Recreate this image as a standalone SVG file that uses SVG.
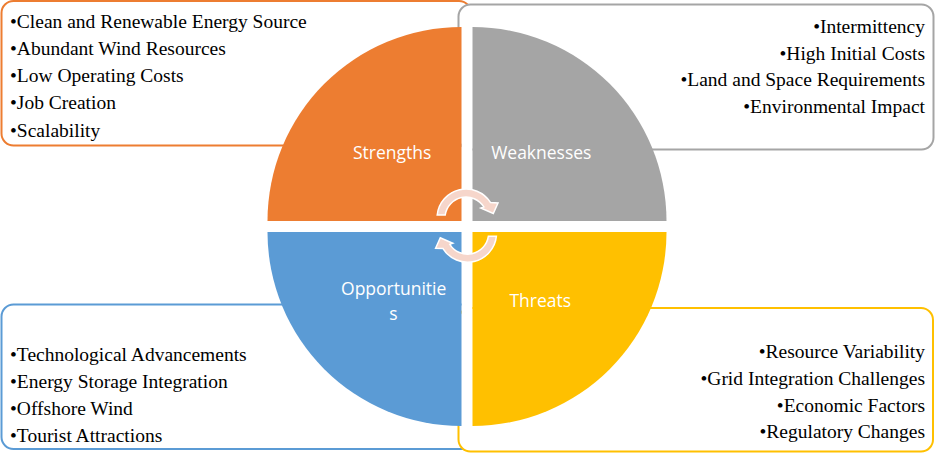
<svg xmlns="http://www.w3.org/2000/svg" width="935" height="453" viewBox="0 0 935 453">
<style>
.box{fill:#fff;stroke-width:2}
.t{font-family:"Liberation Serif","Times New Roman",serif;font-size:19.5px;fill:#000}
.r{text-anchor:end}
.lbl{font-family:"Open Sans","Noto Sans",sans-serif;font-size:17.5px;fill:#fff;text-anchor:middle}
.arr{fill:#F6D6CB;stroke:#fff;stroke-width:1.5;stroke-linejoin:miter}
.gap{fill:#fff}
</style>
<rect width="935" height="453" fill="#fff"/>
<g id="box-strengths">
<rect class="box" x="1.5" y="1" width="469.5" height="144.5" rx="12" stroke="#ED7D31"/>
</g>
<g id="box-weaknesses">
<rect class="box" x="458.5" y="4.5" width="475" height="145" rx="12" stroke="#A5A5A5"/>
</g>
<g id="box-opportunities">
<rect class="box" x="1.5" y="304.5" width="473.5" height="144.5" rx="12" stroke="#5B9BD5"/>
</g>
<g id="box-threats">
<rect class="box" x="458.5" y="308" width="474.5" height="143.5" rx="12" stroke="#FFC000"/>
</g>
<rect class="gap" x="461.5" y="27" width="11" height="399"/>
<rect class="gap" x="267.5" y="221" width="399" height="11"/>
<g id="strengths">
<path d="M461.5 221 L267.5 221 A194 194 0 0 1 461.5 27 Z" fill="#ED7D31"/>
<text class="lbl" x="392.2" y="159">Strengths</text>
</g>
<g id="weaknesses">
<path d="M472.5 221 L472.5 27 A194 194 0 0 1 666.5 221 Z" fill="#A5A5A5"/>
<text class="lbl" x="541.3" y="159">Weaknesses</text>
</g>
<g id="opportunities">
<path d="M461.5 232 L461.5 426 A194 194 0 0 1 267.5 232 Z" fill="#5B9BD5"/>
<text class="lbl" x="393.7" y="295">Opportunitie</text>
<text class="lbl" x="393.5" y="320">s</text>
</g>
<g id="threats">
<path d="M472.5 232 L666.5 232 A194 194 0 0 1 472.5 426 Z" fill="#FFC000"/>
<text class="lbl" x="540.3" y="306.7">Threats</text>
</g>
<g id="connectors">
<path class="arr" d="M437.2 215 A29 29 0 0 1 490.6 202.6 L498 203 L493.3 213.5 L480.8 208 L483.8 206.9 A21 21 0 0 0 445.2 215 Z"/>
<path class="arr" transform="rotate(180 466.8 225.6)" d="M437.2 215 A29 29 0 0 1 490.6 202.6 L498 203 L493.3 213.5 L480.8 208 L483.8 206.9 A21 21 0 0 0 445.2 215 Z"/>
</g>
<g id="text-strengths">
<text class="t" x="10" y="27.5">•Clean and Renewable Energy Source</text>
<text class="t" x="10" y="54.8">•Abundant Wind Resources</text>
<text class="t" x="10" y="82.1">•Low Operating Costs</text>
<text class="t" x="10" y="109.4">•Job Creation</text>
<text class="t" x="10" y="136.7">•Scalability</text>
</g>
<g id="text-weaknesses">
<text class="t r" x="925" y="32.5">•Intermittency</text>
<text class="t r" x="925" y="59.5">•High Initial Costs</text>
<text class="t r" x="925" y="86.3">•Land and Space Requirements</text>
<text class="t r" x="925" y="113.3">•Environmental Impact</text>
</g>
<g id="text-opportunities">
<text class="t" x="10" y="360.7">•Technological Advancements</text>
<text class="t" x="10" y="387.8">•Energy Storage Integration</text>
<text class="t" x="10" y="415">•Offshore Wind</text>
<text class="t" x="10" y="442.3">•Tourist Attractions</text>
</g>
<g id="text-threats">
<text class="t r" x="925" y="358.3">•Resource Variability</text>
<text class="t r" x="925" y="385">•Grid Integration Challenges</text>
<text class="t r" x="925" y="411.7">•Economic Factors</text>
<text class="t r" x="925" y="438.3">•Regulatory Changes</text>
</g>
</svg>
